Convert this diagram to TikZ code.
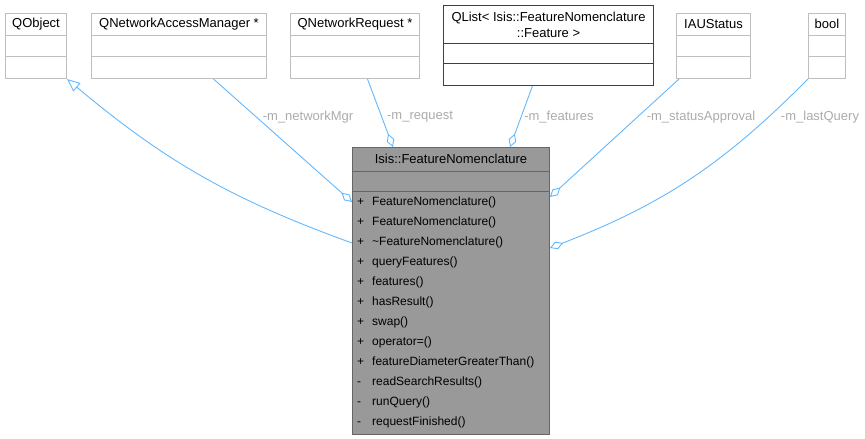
\documentclass[tikz,border=0pt]{standalone}
\usepackage{fontspec}
\setmainfont{Liberation Sans}
\usetikzlibrary{positioning, arrows.meta}
\definecolor{edgeblue}{HTML}{63B8FF}
\definecolor{rolegray}{HTML}{ABABAB}
\definecolor{boxgray}{HTML}{BFBFBF}
\definecolor{maingray}{HTML}{999999}
\definecolor{mainline}{HTML}{666666}
\definecolor{listline}{HTML}{404040}

\begin{document}
\begin{tikzpicture}[x=1pt, y=1pt,
        every node/.style={font=\fontsize{13}{16}\selectfont},
        cls/.style={draw=boxgray, line width=1pt, minimum height=65, inner sep=0pt, anchor=north west},
        sep/.style={line width=1pt},
        member/.style={anchor=west, inner sep=0pt, font=\fontsize{12}{14}\selectfont},
        role/.style={text=rolegray},
        assoc/.style={draw=edgeblue, line width=0.9pt, -{Diamond[open, length=14pt, width=8pt]}},
        inherit/.style={draw=edgeblue, line width=0.9pt, -{Triangle[open, length=13pt, width=11pt]}}
    ]
      \useasboundingbox (0,0) rectangle (865,-439);

      % Used classes
      \foreach \n/\xa/\w/\t in {qobject/5/61/QObject, netmgr/91/175/QNetworkAccessManager *,
                                request/290/129/QNetworkRequest *, status/676/74/IAUStatus, lastq/808/37/bool} {
        \node[cls, minimum width=\w] (\n) at (\xa,-13) {};
        \node (\n-t) at ([yshift=-11]\n.north) {\t};
        \draw[sep, boxgray] ([yshift=-22]\n.north west) -- ([yshift=-22]\n.north east)
                            ([yshift=-43]\n.north west) -- ([yshift=-43]\n.north east);
      }
      \node[cls, draw=listline, minimum width=210, minimum height=80] (qlist) at (443,-5) {};
      \node[align=center] (qlist-t) at ([yshift=-20]qlist.north) {QList< Isis::FeatureNomenclature\\::Feature >};
      \draw[sep, listline] ([yshift=-38]qlist.north west) -- ([yshift=-38]qlist.north east)
                           ([yshift=-58]qlist.north west) -- ([yshift=-58]qlist.north east);

      % Main class
      \node[draw=mainline, fill=maingray, line width=1pt, minimum width=197, minimum height=287,
            inner sep=0pt, anchor=north west] (feature) at (352,-147) {};
      \node (feature-t) at ([yshift=-12]feature.north) {Isis::FeatureNomenclature};
      \draw[sep, mainline] ([yshift=-24]feature.north west) -- ([yshift=-24]feature.north east)
                           ([yshift=-44]feature.north west) -- ([yshift=-44]feature.north east);
      \foreach \s/\m [count=\i] in {+/FeatureNomenclature(), +/FeatureNomenclature(),
          +/\textasciitilde FeatureNomenclature(), +/queryFeatures(), +/features(), +/hasResult(),
          +/swap(), +/operator=(), +/featureDiameterGreaterThan(), -/readSearchResults(),
          -/runQuery(), -/requestFinished()}
        \node[member] (m\i) at (357,-182-20*\i) {\makebox[15pt][l]{\s}\m};

      % Relations
      \draw[inherit] ([yshift=-96]feature.north west) to[bend left=10] (qobject.south east);
      \draw[assoc] ([xshift=34.5]netmgr.south) -- ([yshift=-55]feature.north west);
      \draw[assoc] ([xshift=12.5]request.south) -- ([xshift=41]feature.north west);
      \draw[assoc] ([xshift=-16]qlist.south) -- ([xshift=158]feature.north west);
      \draw[assoc] ([xshift=3]status.south west) -- ([yshift=-50]feature.north east);
      \draw[assoc] (lastq.south west) to[bend left=12] ([yshift=-101]feature.north east);

      % Member names
      \node[role] (mgr-l) at (308,-117) {-m\_networkMgr};
      \node[role] (req-l) at (420,-117) {-m\_request};
      \node[role] (feat-l) at (559,-117) {-m\_features};
      \node[role] (stat-l) at (701,-117) {-m\_statusApproval};
      \node[role] (lq-l) at (820,-117) {-m\_lastQuery};
    \end{tikzpicture}
\end{document}
